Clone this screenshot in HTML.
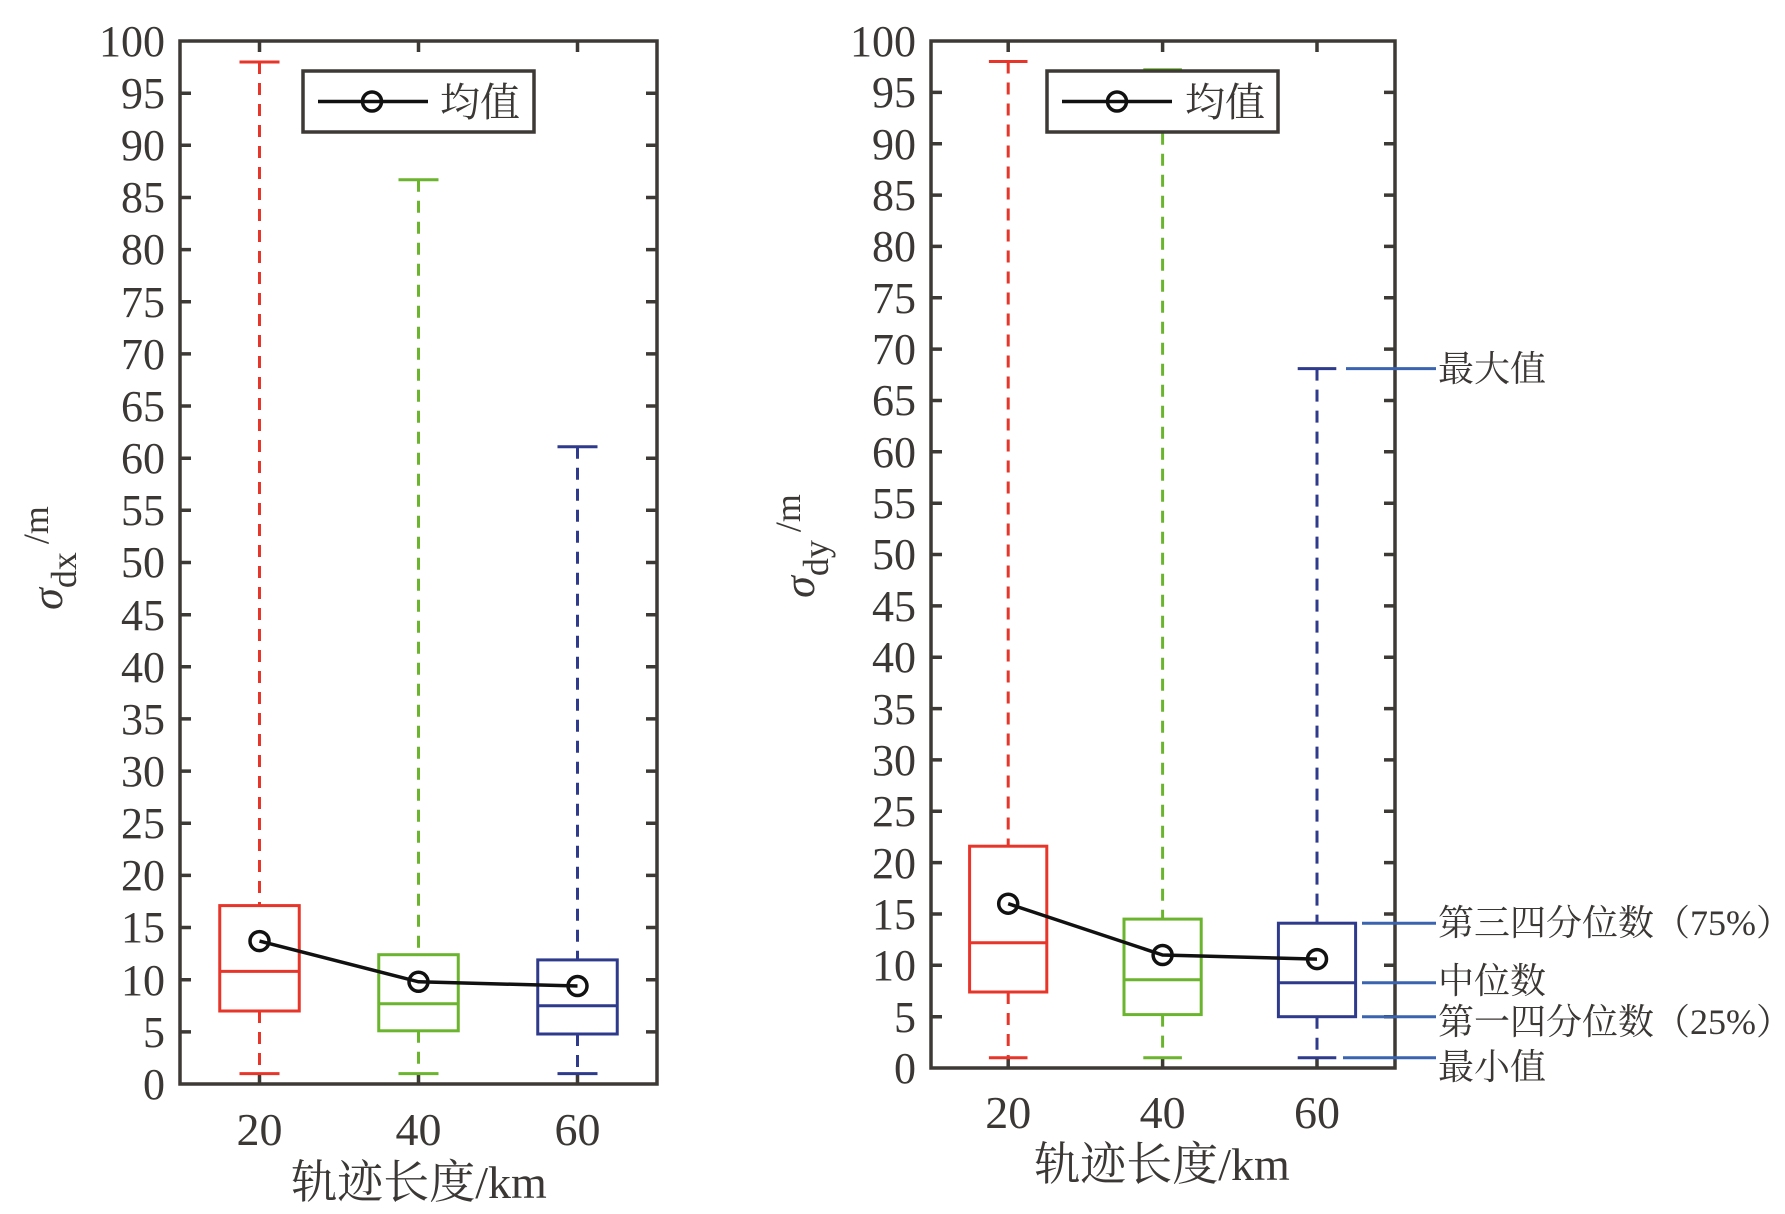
<!DOCTYPE html>
<html><head><meta charset="utf-8"><style>
html,body{margin:0;padding:0;background:#fff}
svg{display:block}
text{font-family:"Liberation Serif","Noto Serif CJK SC",serif;fill:#3a3735}
</style></head><body>
<svg width="1785" height="1214" viewBox="0 0 1785 1214" xmlns="http://www.w3.org/2000/svg">
<!-- LEFT PLOT -->
<g stroke="#3d3935" stroke-width="3.5" fill="none">
<rect x="180" y="41" width="477" height="1043"/>
<path d="M180 93.2h11M180 145.3h11M180 197.5h11M180 249.6h11M180 301.8h11M180 353.9h11M180 406h11M180 458.2h11M180 510.3h11M180 562.5h11M180 614.7h11M180 666.8h11M180 718.9h11M180 771.1h11M180 823.2h11M180 875.4h11M180 927.5h11M180 979.7h11M180 1031.9h11
M657 93.2h-11M657 145.3h-11M657 197.5h-11M657 249.6h-11M657 301.8h-11M657 353.9h-11M657 406h-11M657 458.2h-11M657 510.3h-11M657 562.5h-11M657 614.7h-11M657 666.8h-11M657 718.9h-11M657 771.1h-11M657 823.2h-11M657 875.4h-11M657 927.5h-11M657 979.7h-11M657 1031.9h-11
M259.5 1084v-11M418.5 1084v-11M577.5 1084v-11M259.5 41v11M418.5 41v11M577.5 41v11"/>
</g>
<g font-size="44" text-anchor="end">
<text x="165" y="56">100</text><text x="165" y="108">95</text><text x="165" y="160">90</text><text x="165" y="212">85</text><text x="165" y="264">80</text><text x="165" y="317">75</text><text x="165" y="369">70</text><text x="165" y="421">65</text><text x="165" y="473">60</text><text x="165" y="525">55</text><text x="165" y="577">50</text><text x="165" y="630">45</text><text x="165" y="682">40</text><text x="165" y="734">35</text><text x="165" y="786">30</text><text x="165" y="838">25</text><text x="165" y="890">20</text><text x="165" y="942">15</text><text x="165" y="995">10</text><text x="165" y="1047">5</text><text x="165" y="1099">0</text>
</g>
<g font-size="46" text-anchor="middle">
<text x="259.5" y="1145">20</text><text x="418.5" y="1145">40</text><text x="577.5" y="1145">60</text>
<text x="419" y="1198">轨迹长度/km</text>
</g>
<text transform="translate(62,558) rotate(-90)" font-size="44" text-anchor="middle"><tspan font-style="italic">σ</tspan><tspan dy="14" font-size="36">dx</tspan><tspan dy="-28" dx="8" font-size="36">/m</tspan></text>
<!-- boxes left -->
<g fill="none" stroke-width="3">
<g stroke="#e8352a"><path d="M259.5 62V905.6M259.5 1011V1073.6" stroke-dasharray="12,9"/><path d="M239.5 62h40M239.5 1073.6h40M219.75 971.4h79.5"/><rect x="219.75" y="905.6" width="79.5" height="105.4"/></g>
<g stroke="#6ab42e"><path d="M418.5 179.7V954.7M418.5 1030.8V1073.6" stroke-dasharray="12,9"/><path d="M398.5 179.7h40M398.5 1073.6h40M378.75 1003.7h79.5"/><rect x="378.75" y="954.7" width="79.5" height="76.1"/></g>
<g stroke="#2e3a8c"><path d="M577.5 446.7V959.9M577.5 1034V1073.6" stroke-dasharray="12,9"/><path d="M557.5 446.7h40M557.5 1073.6h40M537.75 1005.8h79.5"/><rect x="537.75" y="959.9" width="79.5" height="74.1"/></g>
</g>
<g fill="none" stroke="#111" stroke-width="3.5"><path d="M259.5 941.1L418.5 981.8L577.5 986"/><circle cx="259.5" cy="941.1" r="9.5"/><circle cx="418.5" cy="981.8" r="9.5"/><circle cx="577.5" cy="986" r="9.5"/></g>
<rect x="303" y="71" width="231" height="61" fill="#fff" stroke="#3d3935" stroke-width="3.5"/>
<g fill="none" stroke="#111" stroke-width="3.5"><path d="M318 101.5h110"/><circle cx="372" cy="101.5" r="9.5"/></g>
<text x="440" y="116" font-size="40">均值</text>

<!-- RIGHT PLOT -->
<g stroke="#3d3935" stroke-width="3.5" fill="none">
<rect x="931" y="41" width="464" height="1027"/>
<path d="M931 92.4h11M931 143.7h11M931 195.1h11M931 246.4h11M931 297.8h11M931 349.1h11M931 400.5h11M931 451.8h11M931 503.2h11M931 554.5h11M931 605.9h11M931 657.2h11M931 708.6h11M931 759.9h11M931 811.3h11M931 862.6h11M931 914h11M931 965.3h11M931 1016.7h11
M1395 92.4h-11M1395 143.7h-11M1395 195.1h-11M1395 246.4h-11M1395 297.8h-11M1395 349.1h-11M1395 400.5h-11M1395 451.8h-11M1395 503.2h-11M1395 554.5h-11M1395 605.9h-11M1395 657.2h-11M1395 708.6h-11M1395 759.9h-11M1395 811.3h-11M1395 862.6h-11M1395 914h-11M1395 965.3h-11M1395 1016.7h-11
M1008.2 1068v-11M1162.6 1068v-11M1317 1068v-11M1008.2 41v11M1162.6 41v11M1317 41v11"/>
</g>
<g font-size="44" text-anchor="end">
<text x="916" y="56">100</text><text x="916" y="107">95</text><text x="916" y="159">90</text><text x="916" y="210">85</text><text x="916" y="261">80</text><text x="916" y="313">75</text><text x="916" y="364">70</text><text x="916" y="415">65</text><text x="916" y="467">60</text><text x="916" y="518">55</text><text x="916" y="569">50</text><text x="916" y="621">45</text><text x="916" y="672">40</text><text x="916" y="724">35</text><text x="916" y="775">30</text><text x="916" y="826">25</text><text x="916" y="878">20</text><text x="916" y="929">15</text><text x="916" y="980">10</text><text x="916" y="1032">5</text><text x="916" y="1083">0</text>
</g>
<g font-size="46" text-anchor="middle">
<text x="1008.2" y="1128">20</text><text x="1162.6" y="1128">40</text><text x="1317" y="1128">60</text>
<text x="1162" y="1180">轨迹长度/km</text>
</g>
<text transform="translate(814,546) rotate(-90)" font-size="44" text-anchor="middle"><tspan font-style="italic">σ</tspan><tspan dy="14" font-size="36">dy</tspan><tspan dy="-28" dx="8" font-size="36">/m</tspan></text>
<g fill="none" stroke-width="3">
<g stroke="#e8352a"><path d="M1008.2 61.5V846.2M1008.2 992V1057.7" stroke-dasharray="12,9"/><path d="M988.9 61.5h38.6M988.9 1057.7h38.6M969.6 942.7h77.2"/><rect x="969.6" y="846.2" width="77.2" height="145.8"/></g>
<g stroke="#6ab42e"><path d="M1162.6 69.8V919.1M1162.6 1014.6V1057.7" stroke-dasharray="12,9"/><path d="M1143.3 69.8h38.6M1143.3 1057.7h38.6M1124 979.7h77.2"/><rect x="1124" y="919.1" width="77.2" height="95.5"/></g>
<g stroke="#2e3a8c"><path d="M1317 368.6V923.2M1317 1016.7V1057.7" stroke-dasharray="12,9"/><path d="M1297.7 368.6h38.6M1297.7 1057.7h38.6M1278.4 982.8h77.2"/><rect x="1278.4" y="923.2" width="77.2" height="93.5"/></g>
</g>
<g fill="none" stroke="#111" stroke-width="3.5"><path d="M1008.2 903.7L1162.6 955L1317 959.1"/><circle cx="1008.2" cy="903.7" r="9.5"/><circle cx="1162.6" cy="955" r="9.5"/><circle cx="1317" cy="959.1" r="9.5"/></g>
<rect x="1047" y="71" width="231" height="61" fill="#fff" stroke="#3d3935" stroke-width="3.5"/>
<g fill="none" stroke="#111" stroke-width="3.5"><path d="M1062 101.5h110"/><circle cx="1117" cy="101.5" r="9.5"/></g>
<text x="1185" y="116" font-size="40">均值</text>

<!-- annotations -->
<g stroke="#3a64b0" stroke-width="3" fill="none">
<path d="M1346 368.6h90M1362 923.2h74M1362 982.8h74M1362 1016.7h74M1343 1057.7h93"/>
</g>
<g font-size="36">
<text x="1438" y="381">最大值</text>
<text x="1438" y="935">第三四分位数（75%）</text>
<text x="1438" y="993">中位数</text>
<text x="1438" y="1034">第一四分位数（25%）</text>
<text x="1438" y="1079">最小值</text>
</g>
</svg>
</body></html>
